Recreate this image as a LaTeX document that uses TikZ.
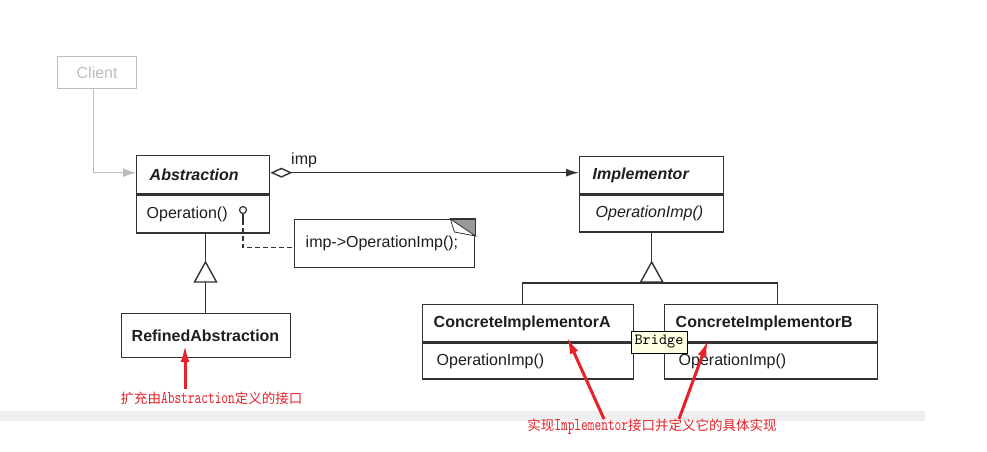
\documentclass[tikz,border=0pt]{standalone}
\usepackage{fontspec}
\setmainfont{Liberation Sans}
\newfontfamily\cjkfont{Noto Sans CJK SC}
\newfontfamily\redlat[FakeStretch=0.71]{lmmono10-regular.otf}
\newfontfamily\tipfont{lmmono10-regular.otf}
\usetikzlibrary{arrows.meta,calc}
\definecolor{linec}{HTML}{333333}
\definecolor{txtc}{HTML}{1E1E1E}
\definecolor{clientc}{HTML}{BDBDBD}
\definecolor{redc}{HTML}{E8222B}
\definecolor{bandc}{HTML}{EFEFEF}
\definecolor{tipc}{HTML}{FFFFE1}
\definecolor{earc}{HTML}{9A9A9A}
\begin{document}
\begin{tikzpicture}[x=1pt,y=-1pt,
  comp/.style={draw=linec, line width=1.4pt, anchor=north west, inner ysep=0pt, align=left, text=txtc, font=\fontsize{16}{18}\selectfont},
  umlline/.style={draw=linec, line width=1.4pt},
  redarrow/.style={draw=redc, line width=3pt, -{Latex[length=17pt,width=9pt]}},
  redtext/.style={text=redc, font=\fontsize{13.5}{16}\selectfont, inner sep=0pt},
]
\useasboundingbox (0,0) rectangle (987,452);
\fill[white] (0,0) rectangle (987,452);
\fill[bandc] (0,411) rectangle (925,421);

% Client
\node[draw=clientc, line width=1.2pt, anchor=north west, minimum width=79pt, minimum height=32pt, inner sep=0pt, text=clientc, font=\fontsize{16}{18}\selectfont] (client) at (57,56) {Client};

% Abstraction
\node[comp, minimum height=38pt, inner xsep=13pt, text width=107pt] (absT) at (136,155) {\textbf{\textit{Abstraction}}};
\node[comp, minimum height=38pt, inner xsep=10pt, text width=113pt] (absO) at (absT.south west) {Operation()};
\node[circle, draw=linec, line width=1.2pt, inner sep=0pt, minimum size=7pt] (lol) at (243,210) {};

% Implementor
\node[comp, minimum height=37pt, inner xsep=13pt, text width=118pt] (implT) at (579,156) {\textbf{\textit{Implementor}}};
\node[comp, minimum height=37pt, inner xsep=16pt, text width=112pt] (implO) at (implT.south west) {\textit{OperationImp()}};

% RefinedAbstraction
\node[comp, minimum height=44pt, inner xsep=10pt, text width=149pt] (refined) at (121,313) {\textbf{RefinedAbstraction}};

% Concrete implementors
\node[comp, minimum height=37pt, inner xsep=11pt, text width=189pt] (ciaT) at (422,304) {\textbf{ConcreteImplementorA}};
\node[comp, minimum height=36pt, inner xsep=14pt, text width=183pt] (ciaO) at (ciaT.south west) {OperationImp()};
\node[comp, minimum height=37pt, inner xsep=11pt, text width=191pt] (cibT) at (664,304) {\textbf{ConcreteImplementorB}};
\node[comp, minimum height=36pt, inner xsep=14pt, text width=185pt] (cibO) at (cibT.south west) {OperationImp()};

% Note
\node[comp, minimum height=48pt, inner xsep=11pt, text width=158pt] (note) at (294,219) {imp->OperationImp();};
\fill[earc] (note.north east) -- ++(-25,0) -- ($(note.north east)+(0,17)$) -- cycle;
\filldraw[fill=white, draw=linec, line width=0.8pt] ($(note.north east)+(-25,0)$) -- ($(note.north east)+(0,17)$) -- ($(note.north east)+(-21,13)$) -- cycle;
\draw[linec, line width=1.4pt] ($(note.north east)+(-25,0)$) -- (note.north east) -- ($(note.north east)+(0,17)$);

% Client connector
\draw[draw=clientc, line width=1.2pt, -{Latex[length=13pt,width=9pt,fill=clientc]}] ([xshift=-3.5pt]client.south) |- ([yshift=2pt]absT.west);

% Aggregation
\draw[umlline, {Diamond[open,length=22pt,width=10pt,fill=white]}-{Latex[length=13pt,width=8pt]}] ([yshift=2pt]absT.east) -- ([yshift=2pt]absT.east -| implT.west);
\node[anchor=south west, inner sep=0pt, text=txtc, font=\fontsize{16}{18}\selectfont] (implbl) at (291,168) {imp};

% Lollipop and dashed link to note
\draw[umlline, line width=1.2pt] (lol.south) -- ++(0,6) coordinate (stem);
\draw[umlline, line width=1.2pt, dash pattern=on 5pt off 3pt] (stem) |- ([yshift=-4pt]note.west);

% Inheritance Abstraction <- RefinedAbstraction
\coordinate (apex1) at (205.5,262);
\draw[umlline] (absO.south -| apex1) -- (apex1);
\draw[umlline, fill=white] (apex1) -- ++(11,20) -- ++(-22,0) -- cycle;
\draw[umlline] ($(apex1)+(0,20)$) -- (refined.north -| apex1);

% Inheritance Implementor <- Concrete
\coordinate (apex2) at (implO.south |- apex1);
\draw[umlline] (implO.south) -- (apex2);
\draw[umlline, fill=white] (apex2) -- ++(11,20) -- ++(-22,0) -- cycle;
\draw[umlline] ($(apex2)+(0,20)$) -- ($(apex2)+(0,21)$);
\draw[umlline] ([xshift=-5.5pt]ciaT.north) -- ++(0,-21) -| ([xshift=6.5pt]cibT.north);

% Bridge tooltip
\node[draw=black, line width=0.8pt, fill=tipc, minimum width=56pt, minimum height=22pt, inner sep=0pt, font=\tipfont\fontsize{15.5}{16}\selectfont] (bridge) at (659,342) {Bridge};

% Red annotations
\node[redtext] (lbl1) at (211.5,398) {{\cjkfont 扩充由}{\redlat\fontsize{18}{16}\selectfont Abstraction}{\cjkfont 定义的接口}};
\node[redtext] (lbl2) at (652,427) {{\cjkfont 实现}{\redlat\fontsize{18}{16}\selectfont Implementor}{\cjkfont 接口并定义它的具体实现}};
\coordinate (tip1) at (185,345);
\coordinate (tip2) at (567,337);
\coordinate (tail2) at (604,419);
\coordinate (tip3) at (708,340);
\coordinate (tail3) at (679,419);
\draw[redarrow] ([yshift=3pt]lbl1.north -| tip1) -- (tip1);
\draw[redarrow] (lbl2.north -| tail2) -- (tip2);
\draw[redarrow] (lbl2.north -| tail3) -- (tip3);
\end{tikzpicture}
\end{document}
